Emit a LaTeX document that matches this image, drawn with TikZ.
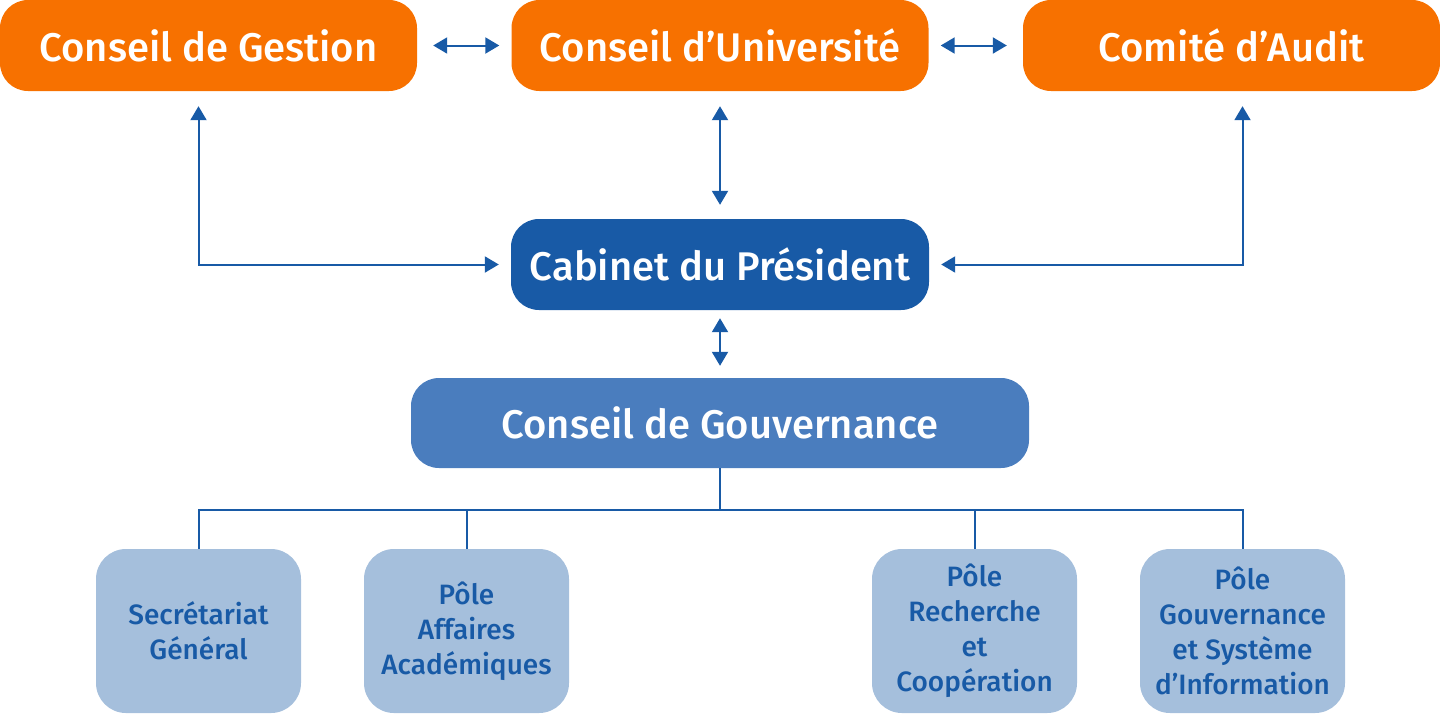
\documentclass[tikz,border=0pt]{standalone}
\usepackage{fontspec}
\setmainfont{Fira Sans}[UprightFont={* Medium}]
\usetikzlibrary{positioning,arrows.meta}
\definecolor{orangeC}{HTML}{F77100}
\definecolor{darkC}{HTML}{185AA6}
\definecolor{midC}{HTML}{4A7DBE}
\definecolor{lightC}{HTML}{A5BFDC}
\begin{document}
\begin{tikzpicture}[
    x=1pt, y=-1pt,
    box/.style={
        rounded corners=28pt,
        inner sep=0pt,
        align=center,
        text=white
    },
    topbox/.style={box, fill=orangeC,
        minimum width=417pt, minimum height=91pt,
        font=\fontsize{40}{44}\selectfont},
    cabbox/.style={box, fill=darkC,
        minimum width=418pt, minimum height=91pt,
        font=\fontsize{40}{44}\selectfont},
    gouvbox/.style={box, fill=midC,
        minimum width=618pt, minimum height=90pt,
        font=\fontsize{40}{44}\selectfont},
    polebox/.style={box, fill=lightC, text=darkC,
        rounded corners=30pt,
        minimum width=205pt, minimum height=164pt,
        font=\fontsize{28}{35}\selectfont},
    link/.style={draw=darkC, line width=2pt},
    both/.style={link, {Triangle[length=14pt,width=16pt]}-{Triangle[length=14pt,width=16pt]}}
]
\useasboundingbox (0,0) rectangle (1440,713);
% top row
\node[topbox] (gestion) at (208.5,45.5) {Conseil de Gestion};
\node[topbox] (univ) at (720,45.5) {Conseil d’Université};
\node[topbox] (audit) at (1231.5,45.5) {Comité d’Audit};
% middle
\node[cabbox] (cabinet) at (720,264.5) {Cabinet du Président};
\node[gouvbox] (gouv) at (720,423) {Conseil de Gouvernance};
% poles
\node[polebox] (sec) at (198.5,631) {Secrétariat\\Général};
\node[polebox] (aca) at (466.5,631) {Pôle\\Affaires\\Académiques};
\node[polebox] (rech) at (974.5,631) {Pôle\\Recherche\\et\\Coopération};
\node[polebox] (info) at (1242.5,631) {Pôle\\Gouvernance\\et Système\\d’Information};
% arrows
\draw[both, shorten <=16pt, shorten >=12pt] (gestion) -- (univ);
\draw[both, shorten <=12pt, shorten >=16pt] (univ) -- (audit);
\draw[both, shorten <=15pt, shorten >=14pt] (univ) -- (cabinet);
\draw[both, shorten <=15pt, shorten >=12pt] (gestion.south -| sec) |- (cabinet.west);
\draw[both, shorten <=15pt, shorten >=12pt] (audit.south -| info) |- (cabinet.east);
\draw[both, shorten <=8pt, shorten >=12pt] (cabinet) -- (gouv);
% tree
\draw[link] (gouv.south) -- (720,510) coordinate (bus);
\foreach \n in {sec,aca,rech,info}
    \draw[link] (bus) -| (\n.north);
\end{tikzpicture}
\end{document}
